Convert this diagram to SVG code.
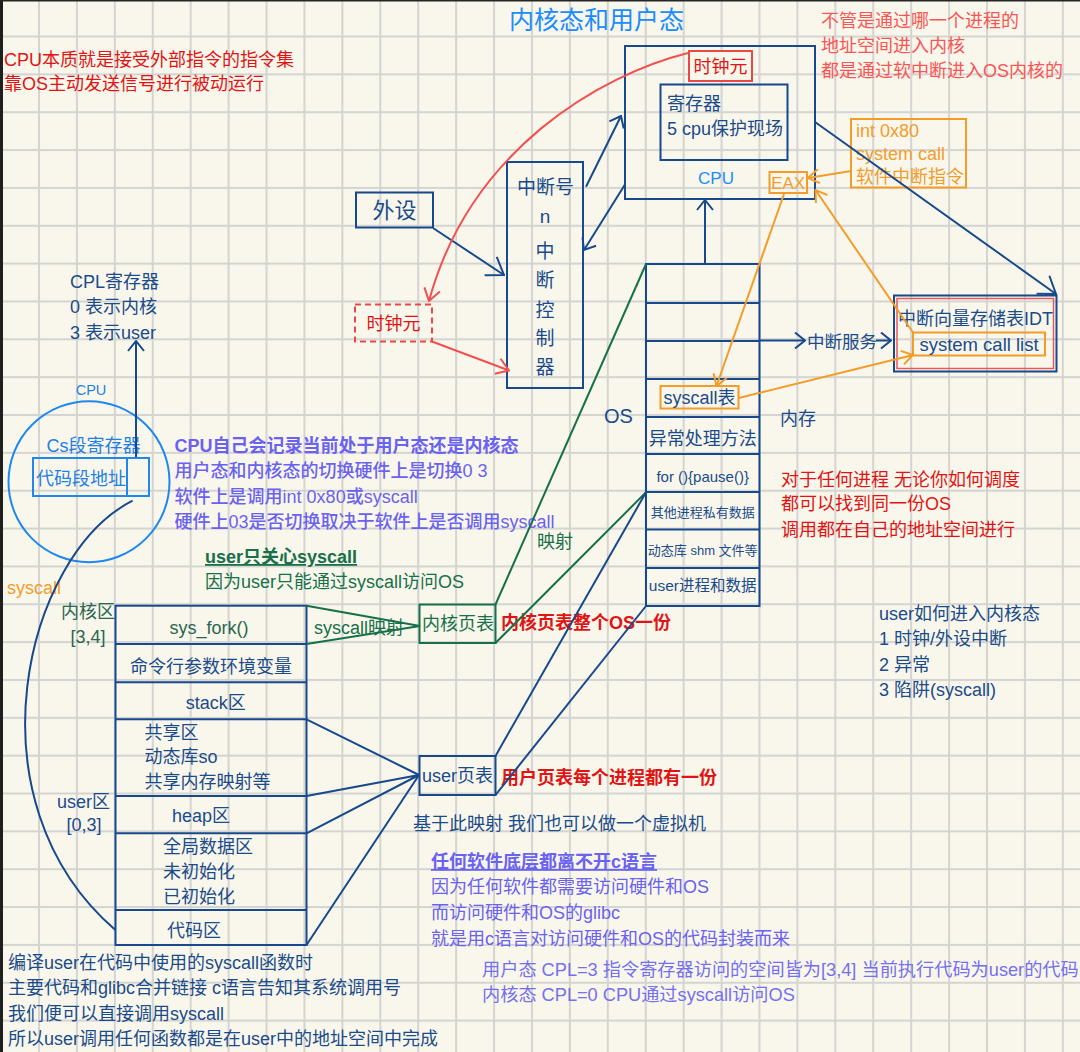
<svg xmlns="http://www.w3.org/2000/svg" width="1080" height="1052" viewBox="0 0 1080 1052">
<defs>
<pattern id="grid" patternUnits="userSpaceOnUse" x="0.08" y="-2.35" width="37.92" height="37.85">
<rect x="0" y="0" width="37.92" height="37.85" fill="#f9f7eb"/>
<rect x="0" y="0" width="2" height="37.85" fill="#d4d4d2"/>
<rect x="0" y="0" width="37.92" height="2" fill="#d4d4d2"/>
</pattern>
<marker id="mB" viewBox="0 0 12 18" refX="11" refY="9" markerWidth="12" markerHeight="18" orient="auto" markerUnits="userSpaceOnUse"><path d="M1,1 L11,9 L1,17" fill="none" stroke="#17498c" stroke-width="2"/></marker>
<marker id="mBL" viewBox="0 0 18 24" refX="17" refY="12" markerWidth="18" markerHeight="24" orient="auto" markerUnits="userSpaceOnUse"><path d="M1,1 L17,12 L1,23" fill="none" stroke="#17498c" stroke-width="2"/></marker>
<marker id="mR" viewBox="0 0 14 18" refX="13" refY="9" markerWidth="14" markerHeight="18" orient="auto" markerUnits="userSpaceOnUse"><path d="M1,1 L13,9 L1,17" fill="none" stroke="#f05050" stroke-width="2"/></marker>
<marker id="mO" viewBox="0 0 13 16" refX="12" refY="8" markerWidth="13" markerHeight="16" orient="auto" markerUnits="userSpaceOnUse"><path d="M1,1 L12,8 L1,15" fill="none" stroke="#f39c2a" stroke-width="2"/></marker>
</defs>
<style>
text { font-family: "Liberation Sans", "Noto Sans CJK SC", sans-serif; font-size: 18px; }
.db { fill: #1a4b8c; }
.red { fill: #e01414; }
.cor { fill: #fa5555; }
.or { fill: #f39c2a; }
.gr { fill: #17704a; }
.gk { fill: #2a6650; }
.pu { fill: #6a62f0; }
.pm { font-weight: 500; }
.pl { fill: #7470f0; font-size: 18.2px; }
.bl { fill: #1a8cff; }
.cs { fill: #1e80e6; }
.mid { text-anchor: middle; }
.b { font-weight: bold; }
.u { text-decoration: underline; }
.box { fill: none; stroke: #17498c; stroke-width: 2; }
.ln { fill: none; stroke: #17498c; stroke-width: 2; }
.lo { fill: none; stroke: #f39c2a; stroke-width: 2; }
.lg { fill: none; stroke: #17704a; stroke-width: 2; }
.lr { fill: none; stroke: #f05050; stroke-width: 2; }
</style>

<rect x="0" y="0" width="1080" height="1052" fill="url(#grid)"/>
<rect x="0" y="0" width="3" height="1052" fill="#1f1f1f"/>
<rect x="0" y="0" width="1080" height="1.5" fill="#262626"/>

<g id="title"><text x="509" y="29" class="bl" style="font-size:25px">内核态和用户态</text></g>

<g id="note-cpu-essence">
<text x="4" y="66" class="red">CPU本质就是接受外部指令的指令集</text>
<text x="4" y="90" class="red">靠OS主动发送信号进行被动运行</text>
</g>

<g id="note-softirq">
<text x="821" y="26.5" class="cor">不管是通过哪一个进程的</text>
<text x="821" y="51.5" class="cor">地址空间进入内核</text>
<text x="821" y="77" class="cor">都是通过软中断进入OS内核的</text>
</g>

<g id="cpu">
<rect x="625" y="46" width="190" height="153" class="box"/>
<text x="716" y="183.5" class="bl mid" style="font-size:17px">CPU</text>
</g>
<g id="cpu-clock">
<rect x="689" y="51" width="63" height="30" fill="#f9f7eb" stroke="#e84848" stroke-width="2"/>
<text x="720.5" y="72.5" class="red mid">时钟元</text>
</g>
<g id="registers">
<rect x="660.5" y="84.5" width="127" height="75.5" class="box"/>
<text x="667" y="110" class="db">寄存器</text>
<text x="667" y="134.5" class="db">5 cpu保护现场</text>
</g>
<g id="eax">
<rect x="769.5" y="172" width="37.5" height="21" fill="none" stroke="#f39c2a" stroke-width="2"/>
<text x="788.2" y="188.5" class="or mid" style="font-size:17px">EAX</text>
</g>
<g id="int80">
<rect x="851" y="119" width="115" height="68.5" fill="none" stroke="#f39c2a" stroke-width="2"/>
<text x="856" y="137" class="or">int 0x80</text>
<text x="856" y="160" class="or">system call</text>
<text x="856" y="182.5" class="or">软件中断指令</text>
</g>

<g id="idt">
<rect x="894" y="295.5" width="162.5" height="76" class="box"/>
<rect x="897" y="298.5" width="156.5" height="70" fill="none" stroke="#e85a5a" stroke-width="1.5"/>
<text x="898" y="325" class="db">中断向量存储表IDT</text>
</g>
<g id="syscall-list">
<rect x="913" y="332.5" width="132" height="23" fill="none" stroke="#f39c2a" stroke-width="2"/>
<text x="979" y="351" class="db mid" style="font-size:18.5px">system call list</text>
</g>
<g id="irq-service"><text x="807" y="348" class="db" style="font-size:17.5px">中断服务</text></g>

<g id="os-memory">
<rect x="646" y="264" width="113.5" height="342" class="box"/>
<path d="M646,303H759.5M646,341H759.5M646,379H759.5M646,417H759.5M646,454H759.5M646,492H759.5M646,529.5H759.5M646,568H759.5" class="ln"/>
<text x="702.7" y="444.5" class="db mid">异常处理方法</text>
<text x="702.7" y="482" class="db mid" style="font-size:15px">for (){pause()}</text>
<text x="702.7" y="517" class="db mid" style="font-size:13px">其他进程私有数据</text>
<text x="702.7" y="554.7" class="db mid" style="font-size:13px">动态库 shm 文件等</text>
<text x="702.7" y="591.3" class="db mid" style="font-size:15.5px">user进程和数据</text>
<text x="604" y="423" class="db" style="font-size:20px">OS</text>
<text x="780" y="424.5" class="db">内存</text>
</g>
<g id="syscall-table">
<rect x="660.5" y="386" width="78" height="22.5" fill="none" stroke="#f39c2a" stroke-width="2"/>
<text x="699.5" y="403.5" class="db mid">syscall表</text>
</g>

<g id="note-same-os">
<text x="781" y="485.5" class="red">对于任何进程 无论你如何调度</text>
<text x="781" y="510" class="red">都可以找到同一份OS</text>
<text x="781" y="536" class="red">调用都在自己的地址空间进行</text>
</g>

<g id="note-enter-kernel">
<text x="879" y="620" class="db">user如何进入内核态</text>
<text x="879" y="645" class="db">1 时钟/外设中断</text>
<text x="879" y="670.5" class="db">2 异常</text>
<text x="879" y="696" class="db">3 陷阱(syscall)</text>
</g>

<g id="irq-controller">
<rect x="507" y="162" width="76" height="226" class="box"/>
<text x="545.5" y="193.5" class="db mid" style="font-size:19px">中断号</text>
<text x="545" y="223" class="db mid" style="font-size:19px">n</text>
<text x="545" y="257.5" class="db mid" style="font-size:19px">中</text>
<text x="545" y="287" class="db mid" style="font-size:19px">断</text>
<text x="545" y="317" class="db mid" style="font-size:19px">控</text>
<text x="545" y="345" class="db mid" style="font-size:19px">制</text>
<text x="545" y="373.5" class="db mid" style="font-size:19px">器</text>
</g>

<g id="peripheral">
<rect x="356" y="192.5" width="77" height="35" class="box"/>
<text x="394.5" y="218" class="db mid" style="font-size:22px">外设</text>
</g>

<g id="clock">
<rect x="355" y="304.5" width="77" height="37" fill="none" stroke="#e84848" stroke-width="2" stroke-dasharray="6,4"/>
<text x="393.5" y="329.5" class="red mid">时钟元</text>
</g>

<g id="cpl-register">
<text x="70" y="287.5" class="db">CPL寄存器</text>
<text x="70" y="312.5" class="db">0 表示内核</text>
<text x="70" y="339" class="db">3 表示user</text>
</g>

<g id="cpu-circle">
<text x="91" y="395" class="cs mid" style="font-size:14.5px">CPU</text>
<circle cx="89" cy="481.7" r="80.5" fill="none" stroke="#1e88ee" stroke-width="2"/>
<text x="46.5" y="451.5" class="cs">Cs段寄存器</text>
</g>
<g id="cs-register">
<rect x="33" y="458" width="116" height="38" fill="none" stroke="#1e88ee" stroke-width="2"/>
<line x1="127" y1="458" x2="127" y2="496" stroke="#1e88ee" stroke-width="2"/>
<text x="36" y="484.5" class="cs">代码段地址</text>
</g>

<g id="syscall-label"><text x="7" y="594" class="or">syscall</text></g>

<g id="note-cpu-mode">
<text x="174.6" y="451.5" class="pu b">CPU自己会记录当前处于用户态还是内核态</text>
<text x="174.6" y="477" class="pu pm">用户态和内核态的切换硬件上是切换0 3</text>
<text x="174.6" y="503" class="pu pm">软件上是调用int 0x80或syscall</text>
<text x="174.6" y="528" class="pu pm">硬件上03是否切换取决于软件上是否调用syscall</text>
</g>

<g id="note-user-syscall">
<text x="205" y="563" class="gr b u">user只关心syscall</text>
<text x="205" y="588" class="gr">因为user只能通过syscall访问OS</text>
</g>

<g id="user-address-space">
<text x="61" y="617.5" class="gk">内核区</text>
<text x="88" y="642.5" class="gk mid">[3,4]</text>
<text x="57" y="807.5" class="db">user区</text>
<text x="84" y="831" class="db mid">[0,3]</text>
<rect x="115.5" y="605.7" width="191" height="339.3" class="box"/>
<path d="M115.5,644H306.5M115.5,682.3H306.5M115.5,719.3H306.5M115.5,796H306.5M115.5,833.3H306.5M115.5,910H306.5" class="ln"/>
<text x="209" y="634" class="gk mid">sys_fork()</text>
<text x="211" y="672.5" class="db mid">命令行参数环境变量</text>
<text x="215.7" y="709" class="db mid">stack区</text>
<text x="144.6" y="739.2" class="db">共享区</text>
<text x="144.6" y="763.2" class="db">动态库so</text>
<text x="144.6" y="788.2" class="db">共享内存映射等</text>
<text x="201" y="822" class="db mid">heap区</text>
<text x="163" y="853" class="db">全局数据区</text>
<text x="163" y="878" class="db">未初始化</text>
<text x="163" y="903" class="db">已初始化</text>
<text x="194" y="936.5" class="db mid">代码区</text>
</g>

<g id="kernel-page-table">
<rect x="419.5" y="604.5" width="76" height="38.5" fill="none" stroke="#17704a" stroke-width="2"/>
<text x="422" y="629.5" class="gr">内核页表</text>
<text x="501" y="629" class="red b">内核页表整个OS一份</text>
</g>

<g id="user-page-table">
<rect x="419.5" y="756" width="76" height="39" class="box"/>
<text x="422" y="782" class="db">user页表</text>
<text x="501" y="784" class="red b">用户页表每个进程都有一份</text>
</g>

<g id="note-vm"><text x="413" y="830" class="db">基于此映射 我们也可以做一个虚拟机</text></g>

<g id="note-c-lang">
<text x="431" y="868" class="pu b u">任何软件底层都离不开c语言</text>
<text x="431" y="893" class="pu">因为任何软件都需要访问硬件和OS</text>
<text x="431" y="919" class="pu">而访问硬件和OS的glibc</text>
<text x="431" y="945" class="pu">就是用c语言对访问硬件和OS的代码封装而来</text>
</g>

<g id="note-cpl">
<text x="482" y="976" class="pl">用户态 CPL=3 指令寄存器访问的空间皆为[3,4] 当前执行代码为user的代码</text>
<text x="482" y="1000.5" class="pl">内核态 CPL=0 CPU通过syscall访问OS</text>
</g>

<g id="note-compile">
<text x="8" y="969" class="db">编译user在代码中使用的syscall函数时</text>
<text x="8" y="994" class="db">主要代码和glibc合并链接 c语言告知其系统调用号</text>
<text x="8" y="1020" class="db">我们便可以直接调用syscall</text>
<text x="8" y="1045" class="db">所以user调用任何函数都是在user中的地址空间中完成</text>
</g>

<g id="connectors">
<line x1="815" y1="122" x2="1056" y2="294" class="ln" marker-end="url(#mBL)"/>
<line x1="760" y1="340.5" x2="805" y2="340.5" class="ln" marker-end="url(#mB)"/>
<line x1="876" y1="340.5" x2="891" y2="340.5" class="ln" marker-end="url(#mB)"/>
<line x1="705" y1="264" x2="705" y2="200" class="ln" marker-end="url(#mB)"/>
<line x1="586" y1="186.7" x2="621" y2="116" class="ln" marker-end="url(#mB)"/>
<line x1="625" y1="184.5" x2="584" y2="250" class="ln" marker-end="url(#mB)"/>
<line x1="433" y1="228" x2="504" y2="275" class="ln" marker-end="url(#mBL)"/>
<line x1="432" y1="341.5" x2="509" y2="370.5" class="lr" marker-end="url(#mR)"/>
<path d="M688,53 C600,75 470,150 429,301" class="lr" marker-end="url(#mR)"/>
<line x1="851" y1="171" x2="808" y2="178" class="lo" marker-end="url(#mO)"/>
<line x1="784" y1="194" x2="716.5" y2="386" class="lo" marker-end="url(#mO)"/>
<line x1="738.5" y1="398" x2="913" y2="355" class="lo" marker-end="url(#mO)"/>
<line x1="913" y1="332.5" x2="815.5" y2="190" class="lo" marker-end="url(#mO)"/>
<line x1="136" y1="457" x2="136" y2="341" class="ln" marker-end="url(#mB)"/>
<path d="M132.6,500.7 C25,555 -35,800 115.4,930" class="ln"/>
<path d="M306.5,605.7 L420,626 L306.5,644" class="lg"/>
<text x="314" y="634" class="gr">syscall映射</text>
<line x1="495.5" y1="604.5" x2="646" y2="264" class="lg"/>
<line x1="495.5" y1="643" x2="646" y2="492.3" class="lg"/>
<text x="537" y="548" class="gr">映射</text>
<line x1="495.5" y1="756" x2="646" y2="492.3" class="ln"/>
<line x1="495.5" y1="795" x2="646" y2="606" class="ln"/>
<path d="M306.5,719.3 L419,775 M306.5,796 L419,775 M306.5,833.3 L419,775 M306.5,945 L419,775" class="ln"/>
</g>
</svg>
